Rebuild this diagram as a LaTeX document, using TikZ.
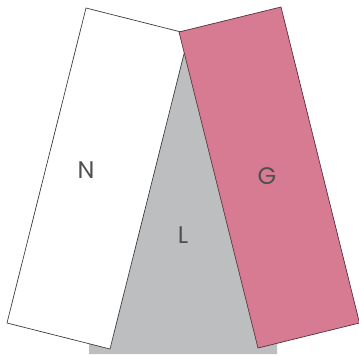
\documentclass[tikz,border=0pt]{standalone}
\usepackage{fontspec}
\setsansfont{Poppins}
\usepackage{xcolor}
\usepackage{tikz}

\definecolor{blockpink}{HTML}{D77B93}
\definecolor{blockgray}{HTML}{BDBEC0}
\definecolor{edgegray}{HTML}{3C3C3C}

\begin{document}
\begin{tikzpicture}[x=1pt, y=-1pt,
    blocklabel/.style={font=\sffamily\fontsize{24}{28}\selectfont, text=edgegray!90}]
  \useasboundingbox (0,0) rectangle (359,354);
  % back block
  \fill[blockgray] (183,30) -- (277,290) -- (277,354) -- (89,354) -- (89,300) -- cycle;
  % left block
  \draw[fill=white, draw=edgegray, line width=0.7pt]
    (86,8) -- (189,34) -- (110,349) -- (7,323) -- cycle;
  % right block
  \draw[fill=blockpink, draw=blockpink!40!black, line width=0.7pt]
    (179,32) -- (281,7) -- (359.5,323) -- (258,348) -- cycle;
  % labels
  \node[blocklabel] (n) at (86,170) {N};
  \node[blocklabel] (g) at (267,176) {G};
  \node[blocklabel] (l) at (183,235) {L};
\end{tikzpicture}
\end{document}
